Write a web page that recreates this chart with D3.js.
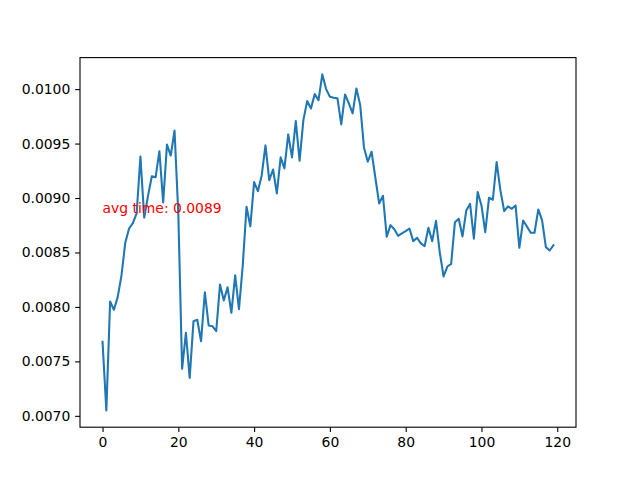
<!DOCTYPE html>
<html lang="en">
<head>
<meta charset="UTF-8">
<title>avg time</title>
<script src="https://d3js.org/d3.v7.min.js"></script>
<style>
  body { margin: 0; background: white; }
  svg text { font-family: "DejaVu Sans", sans-serif; }
</style>
</head>
<body>
<div id="chart"></div>
<script>
// timing per run
const times = [
  0.007680, 0.007050, 0.008050, 0.007974, 0.008090, 0.008290, 0.008590, 0.008720, 0.008770, 0.008860,
  0.009380, 0.008820, 0.009020, 0.009200, 0.009190, 0.009430, 0.008960, 0.009490, 0.009390, 0.009620,
  0.008850, 0.007432, 0.007762, 0.007349, 0.007869, 0.007882, 0.007685, 0.008135, 0.007830, 0.007823,
  0.007777, 0.008206, 0.008060, 0.008180, 0.007946, 0.008290, 0.007980, 0.008380, 0.008920, 0.008740,
  0.009146, 0.009063, 0.009207, 0.009483, 0.009164, 0.009262, 0.009042, 0.009373, 0.009272, 0.009584,
  0.009373, 0.009706, 0.009342, 0.009715, 0.009890, 0.009822, 0.009954, 0.009899, 0.010135, 0.010000,
  0.009930, 0.009920, 0.009915, 0.009676, 0.009951, 0.009869, 0.009777, 0.010006, 0.009853, 0.009462,
  0.009333, 0.009425, 0.009186, 0.008950, 0.009021, 0.008644, 0.008751, 0.008714, 0.008653, 0.008675,
  0.008696, 0.008720, 0.008604, 0.008635, 0.008583, 0.008558, 0.008727, 0.008604, 0.008790, 0.008500,
  0.008280, 0.008371, 0.008396, 0.008778, 0.008810, 0.008647, 0.008886, 0.008947, 0.008626, 0.009055,
  0.008932, 0.008687, 0.009003, 0.008984, 0.009330, 0.009070, 0.008880, 0.008923, 0.008901, 0.008932,
  0.008543, 0.008794, 0.008739, 0.008681, 0.008681, 0.008895, 0.008794, 0.008549, 0.008518, 0.008567
];
const xTicks = [0, 20, 40, 60, 80, 100, 120];
const yTicks = [0.0070, 0.0075, 0.0080, 0.0085, 0.0090, 0.0095, 0.0100];

const W = 640, H = 480;
const margin = {top: 57.6, right: 64, bottom: 52.8, left: 80};
const width = W - margin.left - margin.right;
const height = H - margin.top - margin.bottom;

const svg = d3.select("#chart").append("svg")
    .attr("width", W).attr("height", H);
const g = svg.append("g")
    .attr("transform", `translate(${margin.left},${margin.top})`);

// matplotlib style 5% padding
const n = times.length;
const xPad = (n - 1) * 0.05;
const x = d3.scaleLinear().domain([-xPad, n - 1 + xPad]).range([0, width]);
const [ymin, ymax] = d3.extent(times);
const yPad = (ymax - ymin) * 0.05;
const y = d3.scaleLinear().domain([ymin - yPad, ymax + yPad]).range([height, 0]);

const line = d3.line()
    .x((d, i) => x(i))
    .y(d => y(d));

g.append("path")
    .datum(times)
    .attr("fill", "none")
    .attr("stroke", "#1f77b4")
    .attr("stroke-width", 2.08)
    .attr("stroke-linejoin", "round")
    .attr("stroke-linecap", "square")
    .attr("d", line);

// average label
const avg = d3.mean(times);
g.append("text")
    .attr("x", x(0))
    .attr("y", y(avg))
    .attr("fill", "red")
    .attr("font-size", "13.9px")
    .text("avg time: " + avg.toFixed(4));

// axes
const xAxis = g.append("g")
    .attr("transform", `translate(0,${height})`)
    .call(d3.axisBottom(x).tickValues(xTicks).tickFormat(d3.format("d"))
        .tickSizeOuter(0).tickSize(4.86).tickPadding(4.86));
const yAxis = g.append("g")
    .call(d3.axisLeft(y).tickValues(yTicks).tickFormat(d3.format(".4f"))
        .tickSizeOuter(0).tickSize(4.86).tickPadding(4.86));

[xAxis, yAxis].forEach(a => {
  a.select(".domain").remove();
  a.selectAll("line").attr("stroke", "black").attr("stroke-width", 1.1);
  a.selectAll("text").attr("font-size", "13.9px").attr("fill", "black")
      .attr("font-family", "DejaVu Sans, sans-serif");
});

// frame
g.append("rect")
    .attr("width", width).attr("height", height)
    .attr("fill", "none").attr("stroke", "black").attr("stroke-width", 1.1);
</script>
</body>
</html>
